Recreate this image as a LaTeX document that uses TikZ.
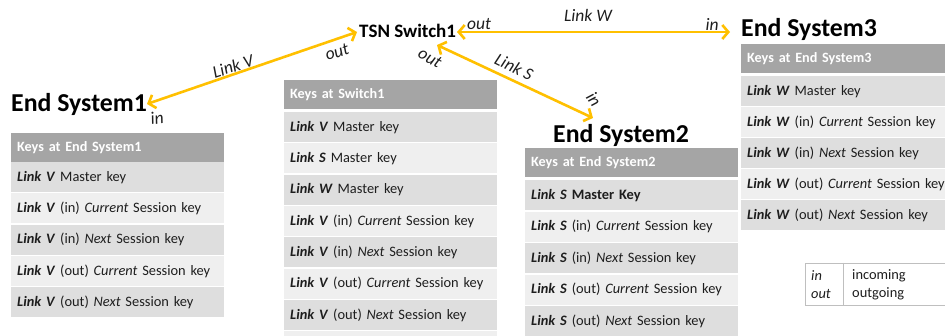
\documentclass[tikz,border=0pt]{standalone}
\usepackage{fontspec}
\setmainfont{Carlito}
\usetikzlibrary{arrows.meta}
\definecolor{linkgold}{HTML}{FFC000}
\definecolor{hdrgray}{HTML}{A5A5A5}
\definecolor{rowdark}{HTML}{DEDEDE}
\definecolor{rowlight}{HTML}{EFEFEF}
\definecolor{rulegray}{HTML}{BFBFBF}
\definecolor{inkgray}{HTML}{1E1E1E}
\newcommand\linkname[1]{\textbf{\textit{Link #1}}}

\begin{document}
\begin{tikzpicture}[x=1pt,y=-1pt,
  cell/.style={anchor=north west, minimum height=30pt, text width=201pt,
    inner xsep=6pt, inner ysep=0pt, align=left,
    font=\fontsize{14.4}{16}\selectfont, text=inkgray},
  hdrcell/.style={cell, fill=hdrgray, minimum height=29pt, text=white,
    font=\fontsize{14.2}{16}\selectfont\bfseries},
  darkrow/.style={cell, fill=rowdark},
  lightrow/.style={cell, fill=rowlight},
  title/.style={anchor=base west, inner sep=0pt, font=\fontsize{25.8}{30}\selectfont\bfseries},
  link/.style={draw=linkgold, line width=2.6pt,
    {Straight Barb[length=6pt,width=14pt]}-{Straight Barb[length=6pt,width=14pt]}},
  lbl/.style={font=\fontsize{17.5}{19}\selectfont\itshape, inner sep=0pt, text=inkgray},
  lgd/.style={font=\fontsize{14.4}{16}\selectfont, inner sep=0pt, anchor=west, text=inkgray},
]
\useasboundingbox (0,0) rectangle (945,336);
\clip (0,0) rectangle (945,336);
\fill[white] (0,0) rectangle (945,336);

% ---------- titles ----------
\node[title] (es1) at (11,112) {End System1};
\node[title] (es2) at (553,143) {End System2};
\node[title] (es3) at (741,37) {End System3};
\node[anchor=base west, inner sep=0pt, font=\fontsize{19}{21}\selectfont\bfseries] (tsn) at (359,38) {TSN Switch1};

% ---------- key table: End System1 ----------
\node[hdrcell]  (es1h)  at (11,133)   {Keys at End System1};
\node[darkrow]  (es1r1) at (11,162)   {\linkname{V} Master key};
\node[lightrow] (es1r2) at (11,193.3) {\linkname{V} (in) \textit{Current} Session key};
\node[darkrow]  (es1r3) at (11,224.6) {\linkname{V} (in) \textit{Next} Session key};
\node[lightrow] (es1r4) at (11,255.9) {\linkname{V} (out) \textit{Current} Session key};
\node[darkrow]  (es1r5) at (11,287.2) {\linkname{V} (out) \textit{Next} Session key};

% ---------- key table: Switch1 ----------
\node[hdrcell]  (swh)  at (284,80)    {Keys at Switch1};
\node[darkrow]  (swr1) at (284,112)   {\linkname{V} Master key};
\node[lightrow] (swr2) at (284,143.3) {\linkname{S} Master key};
\node[darkrow]  (swr3) at (284,174.6) {\linkname{W} Master key};
\node[lightrow] (swr4) at (284,205.9) {\linkname{V} (in) \textit{Current} Session key};
\node[darkrow]  (swr5) at (284,237.2) {\linkname{V} (in) \textit{Next} Session key};
\node[lightrow] (swr6) at (284,268.5) {\linkname{V} (out) \textit{Current} Session key};
\node[darkrow]  (swr7) at (284,299.8) {\linkname{V} (out) \textit{Next} Session key};
\node[lightrow] (swr8) at (284,331.1) {};

% ---------- key table: End System2 ----------
\node[hdrcell]  (es2h)  at (525,148) {Keys at End System2};
\node[darkrow]  (es2r1) at (525,180) {\linkname{S} \textbf{Master Key}};
\node[lightrow] (es2r2) at (525,211.5) {\linkname{S} (in) \textit{Current} Session key};
\node[darkrow]  (es2r3) at (525,243) {\linkname{S} (in) \textit{Next} Session key};
\node[lightrow] (es2r4) at (525,274.5) {\linkname{S} (out) \textit{Current} Session key};
\node[darkrow]  (es2r5) at (525,306) {\linkname{S} (out) \textit{Next} Session key};

% ---------- key table: End System3 ----------
\node[hdrcell]  (es3h)  at (741,44)  {Keys at End System3};
\node[darkrow]  (es3r1) at (741,76)  {\linkname{W} Master key};
\node[lightrow] (es3r2) at (741,107) {\linkname{W} (in) \textit{Current} Session key};
\node[darkrow]  (es3r3) at (741,138) {\linkname{W} (in) \textit{Next} Session key};
\node[lightrow] (es3r4) at (741,169) {\linkname{W} (out) \textit{Current} Session key};
\node[darkrow]  (es3r5) at (741,200) {\linkname{W} (out) \textit{Next} Session key};

% ---------- links (ends placed from the title baselines) ----------
\draw[link] ([xshift=136pt,yshift=8pt]es1.base west) -- ([xshift=-2pt,yshift=6pt]tsn.base west);
\draw[link] ([xshift=98pt,yshift=6pt]tsn.base west) -- ([xshift=-11pt,yshift=5pt]es3.base west);
\draw[link] ([xshift=78pt,yshift=-7pt]tsn.base west) -- ([xshift=40pt,yshift=25pt]es2.base west);

% ---------- link labels ----------
\node[lbl, rotate=18]  (lv)    at (233,66)  {Link V};
\node[lbl, rotate=18]  (lvout) at (337,52)  {out};
\node[lbl, rotate=8]   (lvin)  at (157,118) {in};
\node[lbl]             (lw)    at (588,15)  {Link W};
\node[lbl]             (lwout) at (479,24)  {out};
\node[lbl]             (lwin)  at (712,24)  {in};
\node[lbl, rotate=-26] (ls)    at (514,67)  {Link S};
\node[lbl, rotate=-30] (lsout) at (430,58)  {out};
\node[lbl, rotate=-55] (lsin)  at (594,99)  {in};

% ---------- legend ----------
\draw[rulegray, line width=0.8pt] (950,263) -- (805,263) -- (805,305) -- (950,305);
\draw[rulegray, line width=0.8pt] (843,263) -- (843,305);
\node[lgd] (lgin)   at (811,276) {\textit{in}};
\node[lgd] (lgout)  at (811,294) {\textit{out}};
\node[lgd] (lginc)  at (852,276) {incoming};
\node[lgd] (lgoutg) at (852,294) {outgoing};
\end{tikzpicture}
\end{document}
